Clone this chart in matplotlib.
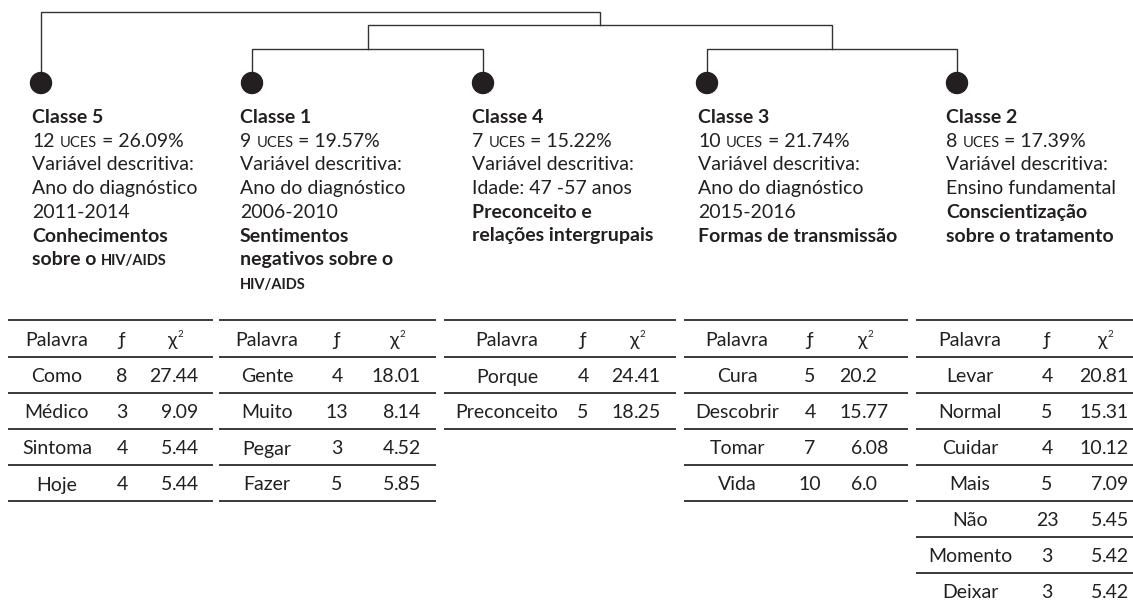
import re
import matplotlib
matplotlib.use('Agg')
import matplotlib.pyplot as plt
from matplotlib.patches import Circle

plt.rcParams['font.family'] = ['Lato', 'DejaVu Sans']

# classes, in dendrogram order (left to right)
classes = ['Classe 5', 'Classe 1', 'Classe 4', 'Classe 3', 'Classe 2']
uces = [12, 9, 7, 10, 8]
uces_pct = [26.09, 19.57, 15.22, 21.74, 17.39]
desc_var = [['Ano do diagnóstico', '2011-2014'],
            ['Ano do diagnóstico', '2006-2010'],
            ['Idade: 47 -57 anos'],
            ['Ano do diagnóstico', '2015-2016'],
            ['Ensino fundamental']]
# {..} = small caps
themes = [['Conhecimentos', 'sobre o {HIV/AIDS}'],
          ['Sentimentos', 'negativos sobre o', '{HIV/AIDS}'],
          ['Preconceito e', 'relações intergrupais'],
          ['Formas de transmissão'],
          ['Conscientização', 'sobre o tratamento']]

words = [['Como', 'Médico', 'Sintoma', 'Hoje'],
         ['Gente', 'Muito', 'Pegar', 'Fazer'],
         ['Porque', 'Preconceito'],
         ['Cura', 'Descobrir', 'Tomar', 'Vida'],
         ['Levar', 'Normal', 'Cuidar', 'Mais', 'Não', 'Momento', 'Deixar']]
freq = [[8, 3, 4, 4],
        [4, 13, 3, 5],
        [4, 5],
        [5, 4, 7, 10],
        [4, 5, 4, 5, 23, 3, 3]]
chi2 = [[27.44, 9.09, 5.44, 5.44],
        [18.01, 8.14, 4.52, 5.85],
        [24.41, 18.25],
        [20.2, 15.77, 6.08, 6.0],
        [20.81, 15.31, 10.12, 7.09, 5.45, 5.42, 5.42]]

# dendrogram: leaves 0..4, merges (node a, node b, height in px from top)
links = [[1, 2, 49], [3, 4, 49], [5, 6, 25], [0, 7, 12]]

# layout (pixels)
leaf_x = [41, 252, 483, 707, 957]
dot_y = 83
text_x = [32, 240, 472, 698, 946]
tab_l = [9, 220, 445, 685, 917]
tab_r = [212, 435, 675, 907, 1133]
word_cx = [57, 267, 507, 737, 970]
f_cx = [122, 337, 583, 810, 1047]
chi_dec = [172, 394, 634, 862, 1102]

ink = '#231f20'
fs = 14
sc = 10.5

fig = plt.figure(figsize=(11.33, 6.04), dpi=100)
ax = fig.add_axes([0, 0, 1, 1])
ax.set_xlim(0, 1133)
ax.set_ylim(604, 0)
ax.axis('off')
renderer = fig.canvas.get_renderer()


def width(s, size, weight='normal', style='normal'):
    t = ax.text(0, 0, s, fontsize=size, fontweight=weight, fontstyle=style)
    w = t.get_window_extent(renderer).width
    t.remove()
    return w


def space_w(size, weight):
    return width('a a', size, weight) - width('aa', size, weight)


def draw_line(x, y, line, weight='normal'):
    cx = x
    for p in re.split(r'(\{[^}]*\})', line):
        if not p:
            continue
        if p.startswith('{'):
            s, size = p[1:-1], sc
        else:
            s, size = p, fs
        lead = len(s) - len(s.lstrip(' '))
        trail = len(s) - len(s.rstrip(' '))
        core = s.strip(' ')
        cx += lead * space_w(size, weight)
        if core:
            t = ax.text(cx, y, core, fontsize=size, fontweight=weight,
                        va='baseline', ha='left', color=ink)
            cx += t.get_window_extent(renderer).width
        cx += trail * space_w(size, weight)


# dendrogram
node_x = list(leaf_x)
node_y = [dot_y] * len(leaf_x)
for a, b, h in links:
    ax.plot([node_x[a], node_x[a], node_x[b], node_x[b]],
            [node_y[a], h, h, node_y[b]], color='#333333', lw=1.0,
            solid_joinstyle='miter')
    node_x.append((node_x[a] + node_x[b]) / 2)
    node_y.append(h)
for x in leaf_x:
    ax.add_patch(Circle((x, dot_y), 10.5, color=ink, zorder=3))

# class descriptions
base0 = 123
step = 23.7
for i, name in enumerate(classes):
    lines = [(name, 'bold'),
             ('%d {UCES} = %.2f%%' % (uces[i], uces_pct[i]), 'normal'),
             ('Variável descritiva:', 'normal')]
    lines += [(d, 'normal') for d in desc_var[i]]
    lines += [(t, 'bold') for t in themes[i]]
    for k, (txt, wt) in enumerate(lines):
        draw_line(text_x[i], base0 + k * step, txt, wt)

# tables
top = 320
head_bot = 357
row_h = 36
for i in range(len(classes)):
    n = len(words[i])
    ys = [top, head_bot] + [head_bot + row_h * (k + 1) for k in range(n)]
    for y in ys:
        ax.plot([tab_l[i], tab_r[i]], [y, y], color='#3a3a3a', lw=1.4)
    hb = (top + head_bot) / 2 + 7.5
    ax.text(word_cx[i], hb, 'Palavra', fontsize=fs, ha='center',
            va='baseline', color=ink)
    ax.text(f_cx[i], hb, 'ƒ', fontsize=fs, ha='center', va='baseline',
            color=ink)
    wc = width('χ', fs)
    w2 = width('2', 7)
    x0 = chi_dec[i] + 4 - (wc + w2) / 2
    ax.text(x0, hb, 'χ', fontsize=fs, ha='left', va='baseline', color=ink)
    ax.text(x0 + wc, hb - 9, '2', fontsize=7, ha='left', va='baseline',
            color=ink)
    for k in range(n):
        yb = head_bot + row_h * k + row_h / 2 + 7.5
        ax.text(word_cx[i], yb, words[i][k], fontsize=fs, ha='center',
                va='baseline', color=ink)
        ax.text(f_cx[i], yb, str(freq[i][k]), fontsize=fs, ha='center',
                va='baseline', color=ink)
        ip, fp = str(chi2[i][k]).split('.')
        ax.text(chi_dec[i], yb, ip, fontsize=fs, ha='right', va='baseline',
                color=ink)
        ax.text(chi_dec[i], yb, '.' + fp, fontsize=fs, ha='left',
                va='baseline', color=ink)

fig.savefig('out.png', dpi=100)
